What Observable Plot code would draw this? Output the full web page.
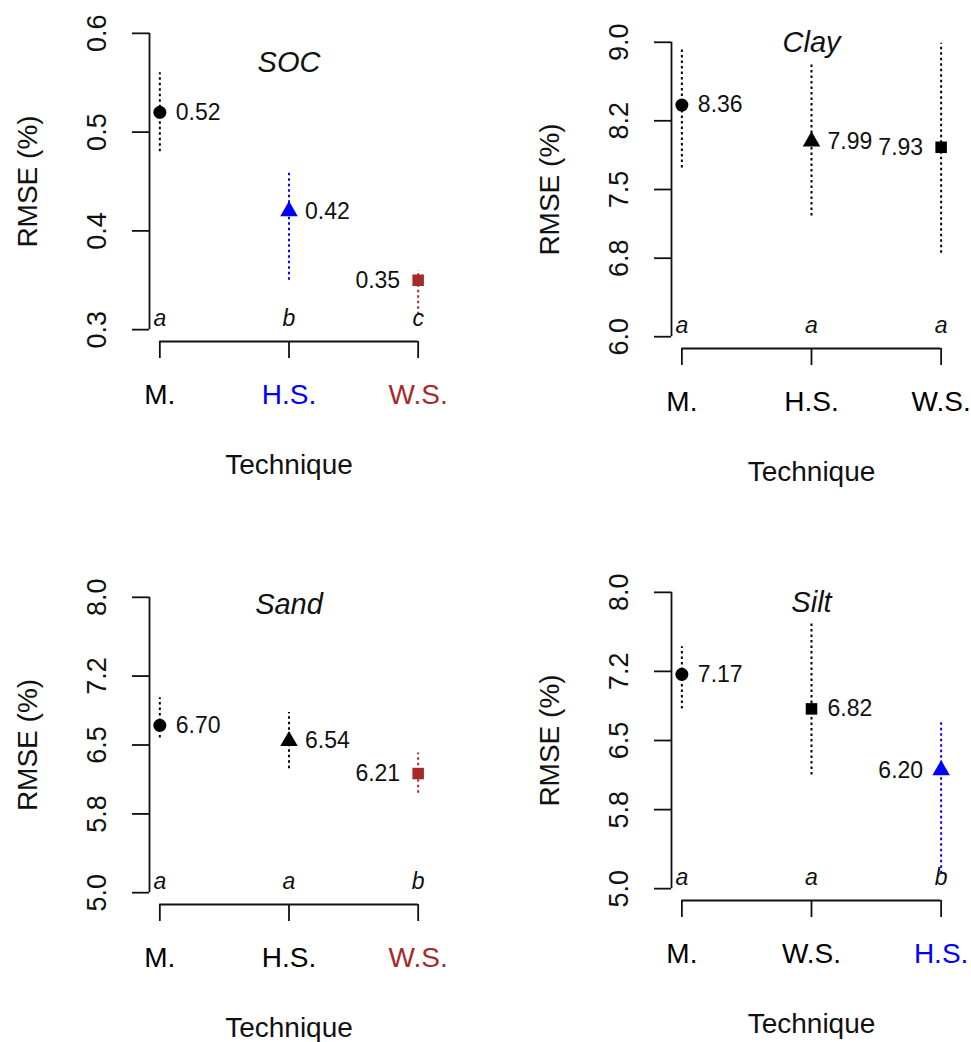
<!DOCTYPE html>
<html><head><meta charset="utf-8">
<script src="https://cdn.jsdelivr.net/npm/d3@7"></script>
<script src="https://cdn.jsdelivr.net/npm/@observablehq/plot@0.6"></script>
<style>
html,body{margin:0;padding:0;background:#fff;}
#fig{position:relative;width:971px;height:1042px;overflow:hidden;background:#fff;}
#fig svg{position:absolute;}
</style></head><body><div id="fig"></div>
<script>
// ---- SOC ----
const socTech = ["M.", "H.S.", "W.S."];
const socRmse = [0.52, 0.42, 0.35];
const socLow = [0.48, 0.35, 0.315];
const socHigh = [0.56, 0.46, 0.36];
const socLetters = ["a", "b", "c"];
const socColors = ["#000000", "#0000FF", "#A52A2A"];
const socTicks = [0.3, 0.4, 0.5, 0.6];
const socTickLabels = ["0.3", "0.4", "0.5", "0.6"];

// ---- Clay ----
const clayTech = ["M.", "H.S.", "W.S."];
const clayRmse = [8.36, 7.99, 7.93];
const clayLow = [7.72, 7.23, 6.85];
const clayHigh = [8.95, 8.77, 8.99];
const clayLetters = ["a", "a", "a"];
const clayColors = ["#000000", "#000000", "#000000"];
const clayTicks = [6.0, 6.8, 7.5, 8.2, 9.0];
const clayTickLabels = ["6.0", "6.8", "7.5", "8.2", "9.0"];

// ---- Sand ----
const sandTech = ["M.", "H.S.", "W.S."];
const sandRmse = [6.70, 6.54, 6.21];
const sandLow = [6.57, 6.26, 6.01];
const sandHigh = [6.98, 6.83, 6.42];
const sandLetters = ["a", "a", "b"];
const sandColors = ["#000000", "#000000", "#A52A2A"];
const sandTicks = [5.0, 5.8, 6.5, 7.2, 8.0];
const sandTickLabels = ["5.0", "5.8", "6.5", "7.2", "8.0"];

// ---- Silt ----
const siltTech = ["M.", "W.S.", "H.S."];
const siltRmse = [7.17, 6.82, 6.20];
const siltLow = [6.82, 6.15, 5.15];
const siltHigh = [7.45, 7.69, 6.70];
const siltLetters = ["a", "a", "b"];
const siltColors = ["#000000", "#000000", "#0000FF"];
const siltTicks = [5.0, 5.8, 6.5, 7.2, 8.0];
const siltTickLabels = ["5.0", "5.8", "6.5", "7.2", "8.0"];

const titles = ["SOC", "Clay", "Sand", "Silt"];
const titleAt = [0.57, 9.0, 7.92, 7.9];

const techSymbols = {"M.": "circle", "H.S.": "triangle", "W.S.": "square"};

const panels = [
  {tech: socTech, rmse: socRmse, low: socLow, high: socHigh, letters: socLetters, colors: socColors, ticks: socTicks, tickLabels: socTickLabels},
  {tech: clayTech, rmse: clayRmse, low: clayLow, high: clayHigh, letters: clayLetters, colors: clayColors, ticks: clayTicks, tickLabels: clayTickLabels},
  {tech: sandTech, rmse: sandRmse, low: sandLow, high: sandHigh, letters: sandLetters, colors: sandColors, ticks: sandTicks, tickLabels: sandTickLabels},
  {tech: siltTech, rmse: siltRmse, low: siltLow, high: siltHigh, letters: siltLetters, colors: siltColors, ticks: siltTicks, tickLabels: siltTickLabels}
];

const layout = [
  {left: 0,   top: 0,   width: 485, height: 520, mt: 21, mb: 179, ml: 149, mr: 57},
  {left: 485, top: 0,   width: 486, height: 520, mt: 30, mb: 172, ml: 186, mr: 20},
  {left: 0,   top: 520, width: 485, height: 522, mt: 65, mb: 138, ml: 149, mr: 57},
  {left: 485, top: 520, width: 486, height: 522, mt: 60, mb: 142, ml: 186, mr: 20}
];

const FONT = "'Liberation Sans', Arial, Helvetica, sans-serif";
const fmt = d3.format(".2f");
const ink = "#111";

function drawPanel(cfg, L, title, titleY) {
  const n = cfg.tech.length;
  const rows = cfg.tech.map((t, i) => ({
    i: i + 1, tech: t, v: cfg.rmse[i], lo: cfg.low[i], hi: cfg.high[i],
    letter: cfg.letters[i], color: cfg.colors[i], symbol: techSymbols[t], right: i < n - 1
  }));
  const y0 = cfg.ticks[0], y1 = cfg.ticks[cfg.ticks.length - 1];
  const ypad = 0.04 * (y1 - y0);
  const xpad = 0.04 * (n - 1);
  const yDomain = [y0 - ypad, y1 + ypad];
  const xDomain = [1 - xpad, n + xpad];
  const ticksX = d3.range(1, n + 1);

  const svg = Plot.plot({
    width: L.width, height: L.height,
    marginTop: L.mt, marginBottom: L.mb, marginLeft: L.ml, marginRight: L.mr,
    style: {fontFamily: FONT, background: "transparent", overflow: "visible", color: ink},
    x: {domain: xDomain},
    y: {domain: yDomain},
    marks: [
      // y axis line (first to last tick)
      Plot.ruleX([xDomain[0]], {y1: y0, y2: y1, stroke: ink, strokeWidth: 1.8}),
      Plot.axisY(cfg.ticks, {anchor: "left", tickSize: 17, tickFormat: () => "", label: null, stroke: ink, strokeWidth: 1.8}),
      Plot.text(cfg.ticks, {y: d => d, text: (d, i) => cfg.tickLabels[i], frameAnchor: "left", dx: -52, rotate: -90, textAnchor: "middle", lineAnchor: "middle", fontSize: 27, fill: ink}),
      // x axis line (first to last tick)
      Plot.ruleY([yDomain[0]], {x1: 1, x2: n, stroke: ink, strokeWidth: 1.8}),
      Plot.axisX(ticksX, {anchor: "bottom", tickSize: 17, tickFormat: () => "", label: null, stroke: ink, strokeWidth: 1.8}),
      Plot.text(rows, {x: "i", text: "tech", fill: "color", frameAnchor: "bottom", dy: 54, textAnchor: "middle", lineAnchor: "middle", fontSize: 28}),
      // axis titles
      Plot.text(["Technique"], {frameAnchor: "bottom", dy: 124, textAnchor: "middle", lineAnchor: "middle", fontSize: 28, fill: ink}),
      Plot.text(["RMSE (%)"], {frameAnchor: "left", dx: -121, rotate: -90, textAnchor: "middle", lineAnchor: "middle", fontSize: 28, fill: ink}),
      // panel title
      Plot.text([title], {x: (1 + n) / 2, y: titleY, fontStyle: "italic", fontSize: 29, textAnchor: "middle", lineAnchor: "middle", fill: ink}),
      // error bars
      Plot.ruleX(rows, {x: "i", y1: "lo", y2: "hi", stroke: "color", strokeWidth: 2, strokeDasharray: "2.5,3"}),
      // points
      Plot.dot(rows, {x: "i", y: "v", symbol: "symbol", fill: "color", stroke: "none", r: 6.5}),
      // value labels
      Plot.text(rows.filter(d => d.right), {x: "i", y: "v", text: d => fmt(d.v), dx: 16, textAnchor: "start", lineAnchor: "middle", fontSize: 23, fill: ink}),
      Plot.text(rows.filter(d => !d.right), {x: "i", y: "v", text: d => fmt(d.v), dx: -18, textAnchor: "end", lineAnchor: "middle", fontSize: 23, fill: ink}),
      // significance letters
      Plot.text(rows, {x: "i", y: y0, text: "letter", dy: -11, fontStyle: "italic", textAnchor: "middle", lineAnchor: "middle", fontSize: 23, fill: ink})
    ]
  });
  svg.style.left = L.left + "px";
  svg.style.top = L.top + "px";
  return svg;
}

const fig = document.getElementById("fig");
panels.forEach((p, k) => fig.appendChild(drawPanel(p, layout[k], titles[k], titleAt[k])));
</script>
</body></html>
